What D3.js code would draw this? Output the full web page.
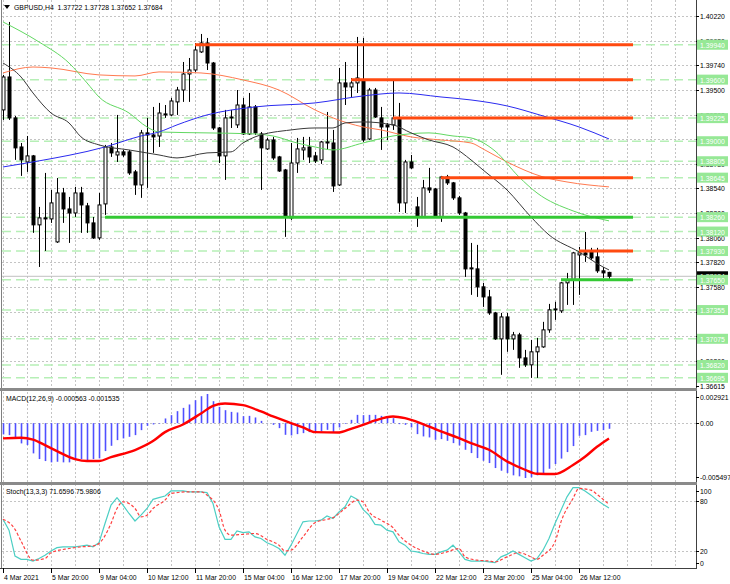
<!DOCTYPE html>
<html>
<head>
<meta charset="utf-8">
<script src="https://cdn.jsdelivr.net/npm/d3@7"></script>
<style>
body { margin: 0; background: #fff; }
text { font-family: 'Liberation Sans', Arial, sans-serif; font-size: 8px; white-space: pre; }
</style>
</head>
<body>
<svg id="chart" width="730" height="584"></svg>
<script>
/* GBPUSD H4 candles, one value per bar */
var open = [
1.39305,1.39626,1.39227,1.38944,1.38798,1.38857,1.38185,1.38253,1.38243,1.38019,
1.38496,1.38340,1.38301,1.38496,1.38370,1.38204,1.38058,1.38389,1.38944,1.38866,
1.38896,1.38896,1.38701,1.38574,1.39081,1.39061,1.39051,1.39266,1.39256,1.39383,
1.39499,1.39655,1.39694,1.39870,1.39957,1.39762,1.39129,1.38857,1.39227,1.39159,
1.39353,1.39071,1.39334,1.39071,1.38925,1.39012,1.38847,1.38720,1.38253,1.38788,
1.38915,1.38944,1.38857,1.38818,1.38983,1.38983,1.38574,1.39568,1.39529,1.39568,
1.39597,1.39022,1.39499,1.39227,1.39159,1.39159,1.39227,1.38399,1.38798,1.38360,
1.38262,1.38545,1.38535,1.38262,1.38652,1.38594,1.38448,1.38301,1.37756,1.37756,
1.37581,1.37483,1.37327,1.37074,1.37288,1.37074,1.37113,1.36889,1.36821,1.36948,
1.36996,1.37162,1.37357,1.37347,1.37620,1.37649,1.37892,1.37912,1.37922,1.37873,
1.37737,1.37722];
var high = [
1.39646,1.40162,1.39246,1.38983,1.39051,1.38866,1.38360,1.38691,1.38525,1.38642,
1.38545,1.38457,1.38555,1.38555,1.38399,1.38262,1.38496,1.38964,1.38983,1.39256,
1.38915,1.38915,1.38720,1.39110,1.39227,1.39334,1.39373,1.39353,1.39422,1.39529,
1.39772,1.39811,1.39957,1.40045,1.40006,1.39772,1.39139,1.39305,1.39305,1.39499,
1.39422,1.39470,1.39353,1.39090,1.39032,1.39042,1.38857,1.38730,1.38983,1.39032,
1.39042,1.39042,1.38896,1.39003,1.39285,1.39110,1.39714,1.39772,1.39616,1.40016,
1.40006,1.39519,1.39519,1.39334,1.39178,1.39597,1.39373,1.38818,1.38866,1.38457,
1.38623,1.38740,1.38545,1.38662,1.38672,1.38603,1.38467,1.38311,1.38009,1.37990,
1.37620,1.37551,1.37337,1.37327,1.37327,1.37142,1.37133,1.36967,1.37064,1.37084,
1.37240,1.37415,1.37435,1.37629,1.37717,1.37922,1.37970,1.38116,1.37961,1.37961,
1.37775,1.37728];
var low = [
1.39207,1.39207,1.38818,1.38662,1.38701,1.38107,1.37775,1.37931,1.38204,1.38009,
1.38204,1.38009,1.38262,1.38107,1.38107,1.38048,1.38038,1.38282,1.38847,1.38798,
1.38847,1.38672,1.38477,1.38448,1.38545,1.38886,1.38944,1.39227,1.39246,1.39256,
1.39383,1.39383,1.39675,1.39860,1.39694,1.39110,1.38788,1.38623,1.39129,1.39129,
1.39061,1.39061,1.39061,1.38525,1.38915,1.38818,1.38701,1.38068,1.38233,1.38691,
1.38818,1.38788,1.38788,1.38779,1.38915,1.38506,1.38564,1.39353,1.39431,1.39470,
1.38993,1.39012,1.39227,1.38915,1.39012,1.39110,1.38311,1.38301,1.38730,1.38165,
1.38253,1.38496,1.38253,1.38214,1.38574,1.38428,1.38282,1.37678,1.37503,1.37483,
1.37386,1.37308,1.37064,1.36724,1.36948,1.36967,1.36792,1.36801,1.36694,1.36694,
1.36987,1.37133,1.37259,1.37327,1.37405,1.37405,1.37503,1.37824,1.37844,1.37717,
1.37668,1.37652];
var close = [
1.39626,1.39227,1.38935,1.38818,1.38857,1.38185,1.38253,1.38243,1.38399,1.38496,
1.38340,1.38301,1.38496,1.38379,1.38204,1.38058,1.38379,1.38944,1.38886,1.38896,
1.38866,1.38691,1.38574,1.39081,1.39061,1.39042,1.39275,1.39256,1.39392,1.39499,
1.39655,1.39694,1.39889,1.39957,1.39762,1.39129,1.38857,1.39227,1.39236,1.39353,
1.39071,1.39334,1.39081,1.38935,1.39012,1.38837,1.38710,1.38262,1.38788,1.38925,
1.38935,1.38847,1.38808,1.38993,1.38993,1.38564,1.39568,1.39529,1.39568,1.39616,
1.39012,1.39499,1.39236,1.39139,1.39139,1.39227,1.38399,1.38798,1.38740,1.38262,
1.38545,1.38525,1.38262,1.38652,1.38594,1.38448,1.38301,1.37756,1.37766,1.37581,
1.37483,1.37327,1.37074,1.37288,1.37074,1.37113,1.36889,1.36821,1.36948,1.36996,
1.37162,1.37357,1.37366,1.37620,1.37649,1.37912,1.37912,1.37892,1.37863,1.37737,
1.37717,1.37684];

/* moving averages: [bar, price] */
var maBlue = [[0,1.38749],[5,1.38798],[17,1.38944],[23,1.39051],[26,1.39090],[29,1.39159],[34,1.39256],
  [42,1.39334],[52,1.39373],[60,1.39441],[66,1.39470],[73,1.39431],[78,1.39402],[84,1.39344],
  [90,1.39246],[96,1.39139],[101,1.39022]];
var maOrange = [[0,1.39665],[5,1.39723],[8,1.39714],[16,1.39646],[22,1.39636],[26,1.39675],[33,1.39665],
  [40,1.39597],[46,1.39499],[52,1.39305],[55,1.39227],[60,1.39139],[63,1.39110],[68,1.39042],
  [73,1.39012],[78,1.38983],[80,1.38925],[84,1.38798],[90,1.38652],[94,1.38603],[101,1.38555]];
var maGreen = [[0,1.40162],[6,1.39967],[11,1.39762],[14,1.39568],[16,1.39431],[21,1.39275],[24,1.39139],
  [26,1.39090],[34,1.39081],[42,1.39071],[45,1.39051],[49,1.38983],[52,1.38944],[55,1.38915],
  [60,1.38983],[65,1.39051],[71,1.39081],[75,1.39051],[78,1.39032],[82,1.38905],[86,1.38652],
  [89,1.38496],[95,1.38321],[101,1.38224]];
var maGrey = [[0,1.39762],[3,1.39626],[5,1.39470],[8,1.39275],[11,1.39178],[13,1.39042],[16,1.38964],
  [21,1.38915],[26,1.38866],[29,1.38837],[34,1.38886],[38,1.38896],[40,1.38983],[42,1.39042],
  [48,1.39110],[52,1.39129],[55,1.39129],[57,1.39178],[60,1.39188],[65,1.39159],[68,1.39081],
  [71,1.39012],[75,1.38944],[78,1.38818],[80,1.38720],[84,1.38525],[88,1.38262],[91,1.38087],
  [96,1.37922],[100,1.37775],[101,1.37746]];

/* drawn levels */
var levels = [1.39940,1.39600,1.39225,1.39000,1.38805,1.38645,1.38260,1.38120,1.37930,1.37650,1.37355,1.37075,1.36820,1.36695];
var redLevels = [[1.39940,32],[1.39600,58],[1.39225,65],[1.38645,73],[1.37930,96]];
var greenLevels = [[1.38260,17],[1.37650,93]];
var levelEnd = 105;
var bid = 1.37684;

/* axes */
var priceTicks = ["1.40220","1.39980","1.39740","1.39500","1.39260","1.39020","1.38780","1.38540",
  "1.38300","1.38060","1.37820","1.37580","1.37340","1.37100","1.36860"];
var priceMin = 1.36615, priceMax = 1.40220;
var timeLabels = ["4 Mar 2021","5 Mar 20:00","9 Mar 04:00","10 Mar 12:00","11 Mar 20:00","15 Mar 04:00",
  "16 Mar 12:00","17 Mar 20:00","19 Mar 04:00","22 Mar 12:00","23 Mar 20:00","25 Mar 04:00","26 Mar 12:00"];
var timeBars = [0,8,16,24,32,40,48,56,64,72,80,88,96];

/* MACD(12,26,9) */
var macdHist = [
-0.00113,-0.0012,-0.00147,-0.00203,-0.0022,-0.00303,-0.0036,-0.0038,-0.00393,-0.00387,
-0.00393,-0.00393,-0.0036,-0.0036,-0.0037,-0.0036,-0.00353,-0.0028,-0.00227,-0.0017,
-0.00153,-0.00137,-0.0012,-0.0007,-0.00027,-0.00013,-0.00005,0.00047,0.0008,0.0012,
0.00153,0.00187,0.0023,0.0027,0.00292,0.0022,0.00163,0.0013,0.00113,0.00107,
0.0007,0.00073,0.00057,0.00023,0.00002,-0.00017,-0.0005,-0.00117,-0.00123,-0.0011,
-0.001,-0.0009,-0.0009,-0.00083,-0.00067,-0.0009,-0.00043,-0.00007,0.00033,0.00083,
0.0008,0.00083,0.00083,0.00073,0.00057,0.0005,-0.0001,-0.00017,-0.00043,-0.0011,
-0.00133,-0.00143,-0.00167,-0.0016,-0.00177,-0.002,-0.00223,-0.00267,-0.003,-0.0035,
-0.00377,-0.004,-0.0045,-0.00477,-0.005,-0.00523,-0.00533,-0.005497,-0.00543,-0.00523,
-0.005,-0.00457,-0.0041,-0.00355,-0.0029,-0.0023,-0.00127,-0.0012,-0.00087,-0.00077,
-0.0007,-0.000563];
var macdSignal = [[0,-0.00153],[3,-0.00147],[5,-0.00165],[7,-0.0022],[9,-0.0028],[12,-0.0036],[14,-0.0038],
  [16,-0.0038],[18,-0.0034],[22,-0.0027],[25,-0.0018],[27,-0.0009],[30,-0.00013],[33,0.00097],
  [35,0.00173],[37,0.00197],[40,0.0018],[43,0.00117],[45,0.00067],[48,0.0],[50,-0.00043],
  [52,-0.0009],[56,-0.00093],[58,-0.00057],[60,-0.00017],[62,0.00027],[65,0.00067],[67,0.0005],
  [70,-0.0001],[73,-0.00083],[76,-0.0015],[78,-0.002],[81,-0.00267],[84,-0.00383],[87,-0.00467],
  [89,-0.00507],[92,-0.0051],[95,-0.0042],[97,-0.00337],[99,-0.00237],[101,-0.001535]];
var macdMin = -0.005497, macdMax = 0.002921;

/* Stochastic(13,3,3) */
var stochMain = [
58,45,14,10,10,8,11,15,20,24,
25,25,25,26,27,25,30,53,75,84,
75,65,56,63,71,82,84,86,92,92,
92,91,91,91,90,77,49,34,34,44,
42,43,37,35,30,27,23,15,27,41,
55,56,56,57,62,59,67,73,86,82,
70,63,52,51,45,43,31,27,20,19,
17,16,16,19,21,27,19,10,8,8,
8,7,6,13,16,20,16,12,8,11,
21,35,53,69,85,96,96,92,87,81,
76,71.6596];
var stochSignal = [[0,58],[2,46],[3,32],[5,9],[7,11],[8,18],[11,23],[13,25],[15,26],[16,29],[18,53],
  [19,71],[20,79],[22,71],[23,61],[24,63],[25,71],[27,81],[28,89],[31,91],[33,91],[34,87],[36,69],
  [37,45],[38,39],[40,40],[42,41],[44,34],[46,27],[47,20],[48,21],[50,37],[52,54],[54,58],[55,60],
  [57,71],[59,81],[60,79],[61,67],[63,57],[65,48],[66,39],[68,27],[70,20],[72,16],[74,19],[76,23],
  [77,13],[79,9],[81,8],[82,7],[84,13],[86,18],[88,13],[89,10],[90,15],[92,31],[93,55],[95,83],
  [96,95],[98,93],[99,88],[100,82],[101,75.9806]];
var stochLevels = [80, 20];
var stochTicks = [100, 80, 20, 0];

var plotR = 696;
var svg = d3.select("#chart");

var x = d3.scaleLinear().domain([0, 101]).range([3, 609]);
var y = d3.scaleLinear().domain([priceMin, priceMax]).range([386, 16]);
var yM = d3.scaleLinear().domain([macdMin, macdMax]).range([478, 394]);
var yS = d3.scaleLinear().domain([0, 100]).range([567.7, 484.3]);

var panels = { main: [0, 388], macd: [391, 482], stoch: [485, 568] };
function clampIn(p, v) { return Math.max(panels[p][0] + 6, Math.min(panels[p][1] - 5, v)); }
function bx(i) { return Math.round(x(i)); }

// narrow terminal-style text
function label(g, tx, ty, s, fill) {
	return g.append("text")
		.attr("transform", "translate(" + tx + "," + ty + ") scale(0.86,1)")
		.attr("fill", fill || "#000")
		.text(s);
}

var grid = "#c4c4c4";

// vertical grid every 4 bars
var vg = [];
for (var i = 0; x(i) < plotR; i += 4) vg.push(i);
svg.append("g").selectAll("line").data(vg).enter().append("line")
	.attr("x1", function(d) { return bx(d) + 0.5; })
	.attr("x2", function(d) { return bx(d) + 0.5; })
	.attr("y1", 0).attr("y2", 568)
	.attr("stroke", grid).attr("stroke-dasharray", "2,2");

// horizontal grid
svg.append("g").selectAll("line").data(priceTicks).enter().append("line")
	.attr("x1", 2).attr("x2", plotR)
	.attr("y1", function(d) { return Math.round(y(+d)) + 0.5; })
	.attr("y2", function(d) { return Math.round(y(+d)) + 0.5; })
	.attr("stroke", grid).attr("stroke-dasharray", "2,2");
svg.append("line").attr("x1", 2).attr("x2", plotR)
	.attr("y1", Math.round(yM(0)) + 0.5).attr("y2", Math.round(yM(0)) + 0.5)
	.attr("stroke", grid).attr("stroke-dasharray", "2,2");
svg.append("g").selectAll("line").data(stochLevels).enter().append("line")
	.attr("x1", 2).attr("x2", plotR)
	.attr("y1", function(d) { return Math.round(yS(d)) + 0.5; })
	.attr("y2", function(d) { return Math.round(yS(d)) + 0.5; })
	.attr("stroke", grid).attr("stroke-dasharray", "2,2");

// dashed level lines
svg.append("g").selectAll("line").data(levels).enter().append("line")
	.attr("x1", 2).attr("x2", plotR)
	.attr("y1", function(d) { return y(d); }).attr("y2", function(d) { return y(d); })
	.attr("stroke", "#b6efb6").attr("stroke-width", 1.5).attr("stroke-dasharray", "9,5");

// bid line
svg.append("line").attr("x1", 2).attr("x2", plotR)
	.attr("y1", y(bid)).attr("y2", y(bid))
	.attr("stroke", "#c0c0c0");

// candles
var bars = d3.range(open.length).map(function(i) {
	return { i: i, o: open[i], h: high[i], l: low[i], c: close[i] };
});
var gC = svg.append("g");
gC.selectAll("line").data(bars).enter().append("line")
	.attr("x1", function(d) { return bx(d.i) + 0.5; })
	.attr("x2", function(d) { return bx(d.i) + 0.5; })
	.attr("y1", function(d) { return y(d.h); })
	.attr("y2", function(d) { return y(d.l); })
	.attr("stroke", "#000");
gC.selectAll("rect").data(bars).enter().append("rect")
	.attr("x", function(d) { return bx(d.i) - 1; })
	.attr("width", 3)
	.attr("y", function(d) { return y(Math.max(d.o, d.c)); })
	.attr("height", function(d) { return Math.max(0.6, Math.abs(y(d.o) - y(d.c))); })
	.attr("fill", function(d) { return d.c > d.o ? "#fff" : "#000"; })
	.attr("stroke", "#000");

// moving averages
var maLine = d3.line()
	.x(function(d) { return x(d[0]); })
	.y(function(d) { return y(d[1]); })
	.curve(d3.curveMonotoneX);
[[maOrange, "#ff7a50"], [maGreen, "#62d862"], [maBlue, "#2b2bf0"], [maGrey, "#3a3a3a"]].forEach(function(m) {
	svg.append("path").attr("d", maLine(m[0]))
		.attr("fill", "none").attr("stroke", m[1]).attr("stroke-width", 1);
});

// level objects
svg.append("g").selectAll("line").data(redLevels).enter().append("line")
	.attr("x1", function(d) { return x(d[1]); }).attr("x2", x(levelEnd))
	.attr("y1", function(d) { return y(d[0]); }).attr("y2", function(d) { return y(d[0]); })
	.attr("stroke", "#ff4a10").attr("stroke-width", 3);
svg.append("g").selectAll("line").data(greenLevels).enter().append("line")
	.attr("x1", function(d) { return x(d[1]); }).attr("x2", x(levelEnd))
	.attr("y1", function(d) { return y(d[0]); }).attr("y2", function(d) { return y(d[0]); })
	.attr("stroke", "#34c934").attr("stroke-width", 3);

// MACD
svg.append("g").selectAll("line").data(macdHist).enter().append("line")
	.attr("x1", function(d, i) { return bx(i) + 0.5; })
	.attr("x2", function(d, i) { return bx(i) + 0.5; })
	.attr("y1", yM(0)).attr("y2", function(d) { return yM(d); })
	.attr("stroke", "#5050ff").attr("stroke-width", 1.6);
svg.append("path")
	.attr("d", d3.line().x(function(d) { return x(d[0]); }).y(function(d) { return yM(d[1]); })
		.curve(d3.curveMonotoneX)(macdSignal))
	.attr("fill", "none").attr("stroke", "#ff0000").attr("stroke-width", 2.4);

// Stochastic
svg.append("path")
	.attr("d", d3.line().x(function(d, i) { return x(i); }).y(function(d) { return yS(d); })(stochMain))
	.attr("fill", "none").attr("stroke", "#4ccfc4").attr("stroke-width", 1.2);
svg.append("path")
	.attr("d", d3.line().x(function(d) { return x(d[0]); }).y(function(d) { return yS(d[1]); })
		.curve(d3.curveMonotoneX)(stochSignal))
	.attr("fill", "none").attr("stroke", "#ff4040").attr("stroke-width", 1.2).attr("stroke-dasharray", "3,2");

// frame
svg.append("line").attr("x1", 1.5).attr("x2", 1.5).attr("y1", 0).attr("y2", 568).attr("stroke", "#808080");
svg.append("line").attr("x1", plotR + 0.5).attr("x2", plotR + 0.5).attr("y1", 0).attr("y2", 568).attr("stroke", "#404040");
svg.append("rect").attr("x", 0).attr("y", 388).attr("width", plotR + 1).attr("height", 3).attr("fill", "#8a8a8a");
svg.append("rect").attr("x", 0).attr("y", 482).attr("width", plotR + 1).attr("height", 3).attr("fill", "#8a8a8a");
svg.append("line").attr("x1", 0).attr("x2", plotR + 1).attr("y1", 568.5).attr("y2", 568.5).attr("stroke", "#404040");

// right axis: price
var axR = svg.append("g");
function rightLabel(txt, yy) {
	axR.append("line").attr("x1", plotR).attr("x2", plotR + 3)
		.attr("y1", Math.round(yy) + 0.5).attr("y2", Math.round(yy) + 0.5).attr("stroke", "#000");
	label(axR, plotR + 4, yy + 3, txt);
}
priceTicks.forEach(function(t) { rightLabel(t, y(+t)); });
rightLabel(priceMin.toFixed(5), y(priceMin));

// bid label, then level labels on top
axR.append("rect").attr("x", plotR + 1).attr("y", y(bid) - 5).attr("width", 31).attr("height", 10).attr("fill", "#000");
label(axR, plotR + 4, y(bid) + 3, bid.toFixed(5), "#fff");
levels.forEach(function(p) {
	axR.append("rect").attr("x", plotR + 1).attr("y", y(p) - 5).attr("width", 31).attr("height", 10).attr("fill", "#96e896");
	label(axR, plotR + 4, y(p) + 3, p.toFixed(5), "#fff");
});

// right axis: MACD and stoch
rightLabel(macdMax.toFixed(6), clampIn("macd", yM(macdMax)));
rightLabel("0.00", yM(0));
rightLabel(macdMin.toFixed(6), clampIn("macd", yM(macdMin)));
stochTicks.forEach(function(t) { rightLabel(String(t), clampIn("stoch", yS(t))); });

// time axis
var axB = svg.append("g");
timeBars.forEach(function(b, k) {
	axB.append("line").attr("x1", bx(b) + 0.5).attr("x2", bx(b) + 0.5).attr("y1", 568).attr("y2", 573).attr("stroke", "#000");
	label(axB, bx(b) + 1, 580, timeLabels[k]);
});

// titles
svg.append("path").attr("d", "M4,5 L10,5 L7,9 Z").attr("fill", "#000");
label(svg, 14, 10, "GBPUSD,H4  " + [open[101], high[101], low[101], close[101]].map(function(v) { return v.toFixed(5); }).join(" "));
label(svg, 6, 401, "MACD(12,26,9) " + macdHist[101].toFixed(6) + " " + macdSignal[macdSignal.length - 1][1].toFixed(6));
label(svg, 6, 494, "Stoch(13,3,3) " + stochMain[101].toFixed(4) + " " + stochSignal[stochSignal.length - 1][1].toFixed(4));
</script>
</body>
</html>
